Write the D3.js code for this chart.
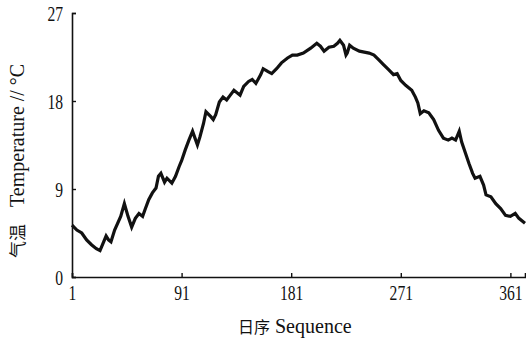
<!DOCTYPE html>
<html>
<head>
<meta charset="utf-8">
<script src="https://cdn.jsdelivr.net/npm/d3@7"></script>
<style>
body { margin: 0; background: #fff; }
</style>
</head>
<body>
<div class="chart"></div>
<script>
// day of year
var days = [1, 5, 9, 13, 17, 21, 24, 27, 29, 31, 33, 36, 41, 44, 47, 50, 53, 56, 59, 61,
	64, 67, 70, 72, 74, 77, 79, 83, 86, 89, 91, 94, 97, 100, 102, 104, 106, 109, 111, 115,
	117, 119, 122, 125, 128, 131, 134, 139, 142, 146, 149, 152, 156, 158, 162, 165, 169, 173, 178, 182,
	186, 191, 197, 202, 205, 208, 212, 216, 219, 221, 224, 226, 227, 229, 232, 237, 241, 245, 249, 253,
	257, 261, 265, 268, 271, 275, 280, 283, 285, 287, 290, 294, 298, 302, 306, 310, 313, 316, 319, 321,
	324, 327, 330, 332, 336, 339, 341, 345, 349, 353, 357, 361, 365, 368, 372, 373];

// temperature in degrees C
var temps = [5.3, 4.8, 4.5, 3.8, 3.3, 2.9, 2.7, 3.6, 4.2, 3.8, 3.6, 4.8, 6.2, 7.5, 6.2, 5.1, 6.0, 6.5, 6.2, 6.9,
	7.9, 8.6, 9.1, 10.3, 10.6, 9.7, 10.1, 9.6, 10.3, 11.3, 11.9, 13.0, 14.0, 14.9, 14.2, 13.5, 14.3, 15.7, 16.9, 16.4,
	16.1, 16.6, 17.9, 18.4, 18.1, 18.6, 19.1, 18.6, 19.5, 20.0, 20.2, 19.8, 20.7, 21.3, 21.0, 20.8, 21.3, 21.9, 22.4, 22.7,
	22.7, 22.9, 23.4, 23.9, 23.6, 23.1, 23.5, 23.6, 23.9, 24.2, 23.7, 22.7, 22.9, 23.7, 23.4, 23.1, 23.0, 22.9, 22.7, 22.2,
	21.7, 21.2, 20.7, 20.8, 20.1, 19.6, 19.1, 18.4, 17.8, 16.7, 17.0, 16.8, 16.1, 15.0, 14.2, 14.0, 14.2, 14.0, 14.9, 13.8,
	12.7, 11.6, 10.6, 10.1, 10.3, 9.4, 8.4, 8.2, 7.5, 7.0, 6.3, 6.2, 6.5, 6.0, 5.6, 5.5];

var xTicks = [1, 91, 181, 271, 361];
var yTicks = [0, 9, 18, 27];

var svg = d3.select(".chart").append("svg")
	.attr("width", 526).attr("height", 342);

var x = d3.scaleLinear().domain([1, 373]).range([72, 525]);
var y = d3.scaleLinear().domain([0, 27]).range([277, 13]);

var points = days.map(function(d, i) { return [d, temps[i]]; });

//the temperature line
svg.append("path")
	.datum(points)
	.attr("fill", "none")
	.attr("stroke", "#111")
	.attr("stroke-width", 3.2)
	.attr("stroke-linejoin", "miter")
	.attr("d", d3.line().x(function(d) { return x(d[0]); }).y(function(d) { return y(d[1]); }));

//axes with inward ticks
var xAxis = d3.axisBottom(x).tickValues(xTicks).tickSize(-4).tickPadding(10);
var yAxis = d3.axisLeft(y).tickValues(yTicks).tickSize(-4).tickPadding(10);

var xg = svg.append("g").attr("transform", "translate(0,277)").call(xAxis);
var yg = svg.append("g").attr("transform", "translate(72,0)").call(yAxis);

[xg, yg].forEach(function(g) {
	g.select(".domain").attr("stroke", "#111").attr("stroke-width", 1.6);
	g.selectAll(".tick line").attr("stroke", "#111").attr("stroke-width", 1.4);
	g.selectAll(".tick text")
		.attr("fill", "#111")
		.style("font-family", "'Liberation Serif', serif")
		.style("font-size", "20px");
});

//narrow digits like the original
xg.selectAll(".tick text")
	.attr("y", null).attr("dy", null)
	.attr("transform", "translate(0,23) scale(0.78,1)");
yg.selectAll(".tick text")
	.attr("x", null).attr("dy", null)
	.attr("transform", "translate(-9,7) scale(0.78,1)");

//axis titles
svg.append("text")
	.attr("x", 238).attr("y", 333)
	.style("font-family", "'Noto Sans CJK SC'")
	.style("font-size", "16px")
	.attr("fill", "#111")
	.text("日序");
svg.append("text")
	.attr("x", 275).attr("y", 333)
	.style("font-family", "'Liberation Serif', serif")
	.style("font-size", "20px")
	.attr("fill", "#111")
	.text("Sequence");

svg.append("text")
	.attr("transform", "translate(24,258) rotate(-90)")
	.style("font-family", "'Noto Sans CJK SC'")
	.style("font-size", "17px")
	.attr("fill", "#111")
	.text("气温");
svg.append("text")
	.attr("transform", "translate(24,207) rotate(-90)")
	.style("font-family", "'Liberation Serif', serif")
	.style("font-size", "20px")
	.attr("fill", "#111")
	.text("Temperature // °C");
</script>
</body>
</html>
